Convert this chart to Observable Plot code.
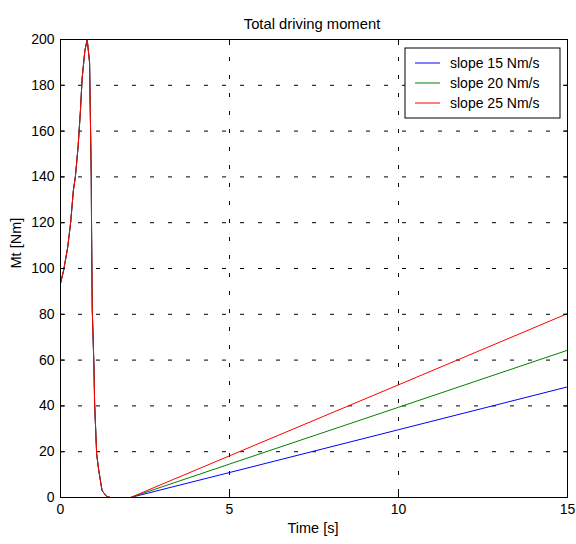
<!DOCTYPE html>
<html><head><meta charset="utf-8">
<script src="https://cdn.jsdelivr.net/npm/d3@7"></script>
<script src="https://cdn.jsdelivr.net/npm/@observablehq/plot@0.6"></script>
<style>
body{margin:0;background:#fff;}
</style></head><body><div id="chart"></div>
<script>
const seriesNames = ["slope 15 Nm/s", "slope 20 Nm/s", "slope 25 Nm/s"];
const seriesColors = ["#0000ff", "#008000", "#ff0000"];
// shared start-up segment (time in s, moment in Nm)
const startTime = [0, 0.09, 0.21, 0.30, 0.38, 0.44, 0.52, 0.59, 0.64, 0.72, 0.79, 0.86, 0.89, 0.91, 0.92, 0.94, 0.99, 1.01, 1.07, 1.13, 1.23, 1.36, 1.48, 2.07];
const startMoment = [93.5, 99, 109, 120, 134, 140, 153, 169, 183, 195, 200, 190, 160, 140, 115, 82, 57, 41, 19, 12, 3, 0.5, 0, 0];
// ramp segment
const rampTime = [2.07, 5, 10, 15];
const rampBlue = [0, 10.9, 29.6, 48.3];
const rampGreen = [0, 14.6, 39.4, 64.3];
const rampRed = [0, 18.2, 49.2, 80.3];
const xTicks = [0, 5, 10, 15];
const yTicks = [0, 20, 40, 60, 80, 100, 120, 140, 160, 180, 200];
const titleText = "Total driving moment";
const xLabel = "Time [s]";
const yLabel = "Mt [Nm]";

const ramps = [rampBlue, rampGreen, rampRed];
const rows = [];
seriesNames.forEach((s, i) => {
  startTime.forEach((t, j) => rows.push({s, t, m: startMoment[j]}));
  rampTime.forEach((t, j) => { if (j > 0) rows.push({s, t, m: ramps[i][j]}); });
});

const font = "'Liberation Sans', Arial, Helvetica, sans-serif";
const gridOpts = {stroke: "#000", strokeOpacity: 1, strokeDasharray: "4,14"};
const chart = Plot.plot({
  width: 576, height: 544,
  marginLeft: 60, marginRight: 9, marginTop: 39, marginBottom: 47,
  style: {fontFamily: font, fontSize: "14px", background: "#fff", color: "#000"},
  x: {domain: [0, 15]},
  y: {domain: [0, 200]},
  color: {domain: seriesNames, range: seriesColors},
  marks: [
    Plot.gridX(xTicks.slice(1, -1), gridOpts),
    Plot.gridY(yTicks.slice(1, -1), gridOpts),
    Plot.line(rows, {x: "t", y: "m", z: "s", stroke: "s", strokeWidth: 1, clip: true}),
    Plot.frame({stroke: "#000"}),
    Plot.axisX(xTicks, {anchor: "bottom", tickSize: -5, tickPadding: 12, label: null, fontSize: 14}),
    Plot.axisX(xTicks, {anchor: "top", tickSize: -5, tickFormat: () => "", label: null}),
    Plot.axisY(yTicks, {anchor: "right", tickSize: -5, tickFormat: () => "", label: null}),
    Plot.axisY(yTicks, {anchor: "left", tickSize: -5, tickPadding: 11, label: null, fontSize: 14}),
    Plot.text([titleText], {text: d => d, frameAnchor: "top", dy: -21.5, dx: -2, fontSize: 14.8}),
    Plot.text([xLabel], {text: d => d, frameAnchor: "bottom", dy: 35.5, dx: -1, fontSize: 14.5}),
    Plot.text([yLabel], {text: d => d, frameAnchor: "left", dx: -44, rotate: -90, fontSize: 14.5})
  ]
});
document.getElementById("chart").appendChild(chart);

// legend inside the axes (upper right)
const svg = d3.select(chart);
const lg = svg.append("g").attr("font-family", font).attr("font-size", 14).attr("text-anchor", "start");
lg.append("rect").attr("x", 405).attr("y", 48).attr("width", 155).attr("height", 70)
  .attr("fill", "#fff").attr("stroke", "#000");
seriesNames.forEach((s, i) => {
  const y = 63 + i * 20;
  lg.append("line").attr("x1", 415).attr("x2", 440).attr("y1", y).attr("y2", y).attr("stroke", seriesColors[i]);
  lg.append("text").attr("x", 450).attr("y", y).attr("dy", "0.35em").text(s);
});
</script></body></html>
